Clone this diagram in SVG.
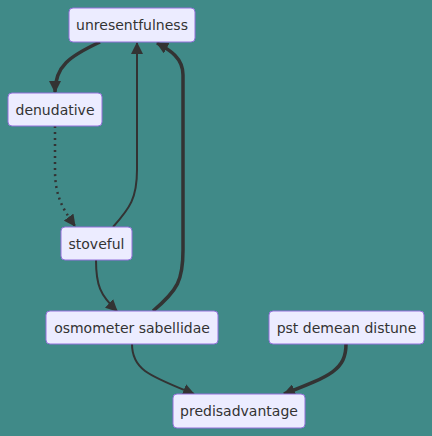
<svg xmlns="http://www.w3.org/2000/svg" width="432" height="436" viewBox="0 0 432 436">
<style>
.node rect{fill:#ECECFF;stroke:#9370DB;stroke-width:1}
.node text{font-family:"DejaVu Sans",sans-serif;font-size:14px;fill:#333;text-anchor:middle;dominant-baseline:central}
.e{fill:none;stroke:#333}
.thin{stroke-width:2}
.thick{stroke-width:3.5}
.dot{stroke-width:2.5;stroke-dasharray:2 4}
</style>
<defs>
<marker id="arr" markerUnits="userSpaceOnUse" markerWidth="12" markerHeight="12" viewBox="0 0 12 12" refX="11" refY="6" orient="auto">
<path d="M0,0 L12,6 L0,12 z" fill="#333"/>
</marker>
</defs>
<rect width="432" height="436" fill="#408a88"/>
<g id="connectors">
<path class="e thick" d="M100,42 C70,56 55,66 55,92" marker-end="url(#arr)"/>
<path class="e dot" d="M55,126 L55,170 C55,195 62,208 75,226" marker-end="url(#arr)"/>
<path class="e thin" d="M113,227 C130,208 137,198 137,170 L137,43" marker-end="url(#arr)"/>
<path class="e thin" d="M96,260 C96,285 100,295 117,311" marker-end="url(#arr)"/>
<path class="e thick" d="M153,311 C178,290 183,280 183,250 L183,75 C183,58 170,50 157,43" marker-end="url(#arr)"/>
<path class="e thin" d="M132,344 C132,370 150,376 194,394" marker-end="url(#arr)"/>
<path class="e thick" d="M346,344 C346,370 330,376 284,394" marker-end="url(#arr)"/>
</g>
<g id="unresentfulness" class="node"><rect x="69" y="8" width="126" height="34" rx="4"/><text x="132" y="25">unresentfulness</text></g>
<g id="denudative" class="node"><rect x="8" y="93" width="94" height="33" rx="4"/><text x="55" y="110">denudative</text></g>
<g id="stoveful" class="node"><rect x="61" y="227" width="71" height="33" rx="4"/><text x="96.5" y="243.5">stoveful</text></g>
<g id="osmometer" class="node"><rect x="46" y="311" width="172" height="33" rx="4"/><text x="132" y="327.5">osmometer sabellidae</text></g>
<g id="pst" class="node"><rect x="269" y="311" width="155" height="33" rx="4"/><text x="346.5" y="327.5">pst demean distune</text></g>
<g id="predisadvantage" class="node"><rect x="173" y="394" width="132" height="34" rx="4"/><text x="239" y="411">predisadvantage</text></g>
</svg>
